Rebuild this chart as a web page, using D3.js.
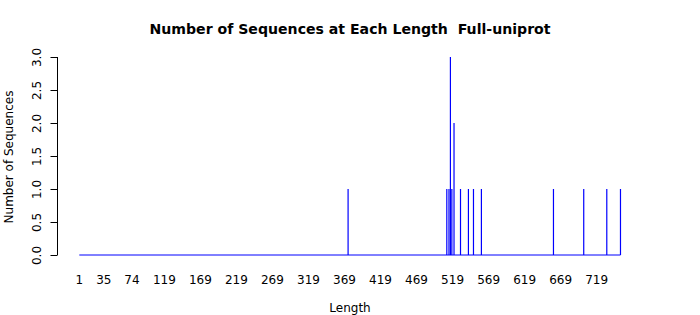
<!DOCTYPE html>
<html>
<head>
<meta charset="utf-8">
<script src="https://cdn.jsdelivr.net/npm/d3@7"></script>
<style>
  body { margin: 0; background: #fff; }
  svg { display: block; }
  text { font-family: "DejaVu Sans", sans-serif; fill: #000; }
</style>
</head>
<body>
<svg id="chart" width="700" height="315"></svg>
<script>
// Data: sequence lengths and their counts
const lengths = [374, 511, 514, 516, 518, 521, 530, 541, 548, 559, 659, 701, 733, 752];
const counts  = [1,   1,   1,   3,   1,   2,   1,   1,   1,   1,   1,   1,   1,   1];
const minLength = 1;
const maxLength = 752;
const xTickLabels = [1, 35, 74, 119, 169, 219, 269, 319, 369, 419, 469, 519, 569, 619, 669, 719];
const yTicks = [0, 0.5, 1, 1.5, 2, 2.5, 3];

const title = "Number of Sequences at Each Length  Full-uniprot";
const xLabel = "Length";
const yLabel = "Number of Sequences";

const svg = d3.select("#chart");

const x = d3.scaleLinear().domain([1, 719]).range([79.3, 596.7]);
const y = d3.scaleLinear().domain([0, 3]).range([255, 57]);

// title
svg.append("text")
  .attr("x", 350).attr("y", 34)
  .attr("text-anchor", "middle")
  .attr("xml:space", "preserve")
  .style("white-space", "pre")
  .style("font-weight", "bold")
  .style("font-size", "14.1px")
  .text(title);

// baseline (zero counts)
svg.append("line")
  .attr("x1", x(minLength)).attr("x2", x(maxLength))
  .attr("y1", y(0)).attr("y2", y(0))
  .attr("stroke", "#0000ff").attr("stroke-width", 1);

// spikes
svg.selectAll("line.spike")
  .data(lengths.map((l, i) => ({ l, c: counts[i] })))
  .join("line")
  .attr("class", "spike")
  .attr("x1", d => x(d.l)).attr("x2", d => x(d.l))
  .attr("y1", y(0)).attr("y2", d => y(d.c))
  .attr("stroke", "#0000ff").attr("stroke-width", 1.2);

// y axis
const yAxis = d3.axisLeft(y).tickValues(yTicks).tickSize(7).tickFormat(d3.format(".1f"));
const gy = svg.append("g").attr("transform", "translate(57.5,0)").call(yAxis);
gy.select(".domain").attr("d", `M0,${y(0)}V${y(3)}`).attr("stroke", "#000");
gy.selectAll(".tick line").attr("stroke", "#000");
gy.selectAll(".tick text")
  .attr("x", null).attr("dy", null)
  .attr("text-anchor", "middle")
  .attr("transform", "translate(-17,0) rotate(-90)")
  .style("font-size", "12px")
  .style("font-family", "DejaVu Sans, sans-serif");

// x tick labels (no axis line, no tick marks)
svg.selectAll("text.xt")
  .data(xTickLabels)
  .join("text")
  .attr("class", "xt")
  .attr("x", d => x(d)).attr("y", 284)
  .attr("text-anchor", "middle")
  .style("font-size", "12px")
  .text(d => d);

// axis titles
svg.append("text")
  .attr("x", 350).attr("y", 312)
  .attr("text-anchor", "middle")
  .style("font-size", "12px")
  .text(xLabel);

svg.append("text")
  .attr("transform", "translate(13,157) rotate(-90)")
  .attr("text-anchor", "middle")
  .style("font-size", "12px")
  .text(yLabel);
</script>
</body>
</html>
